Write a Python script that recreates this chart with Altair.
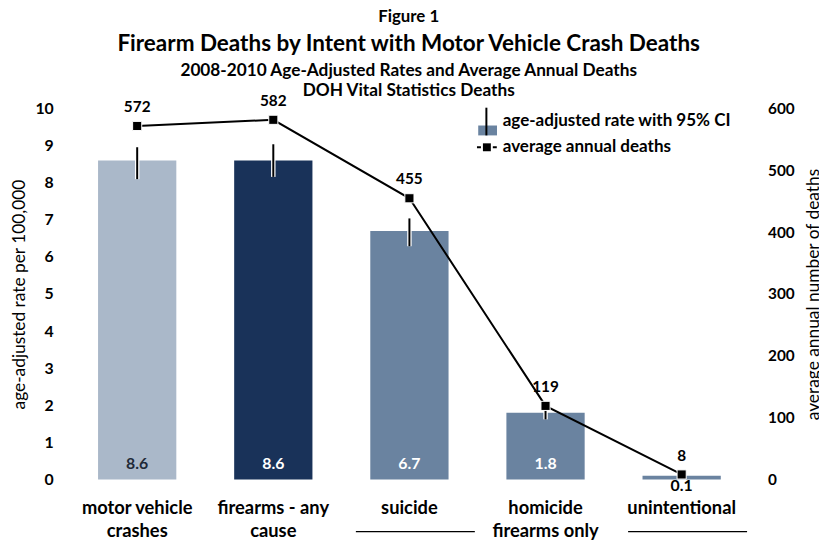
import altair as alt
import pandas as pd

# ---- data ----
categories = ["motor vehicle\ncrashes", "firearms - any\ncause", "suicide",
              "homicide\nfirearms only", "unintentional"]
rates = [8.6, 8.6, 6.7, 1.8, 0.1]
ci_low = [8.10, 8.16, 6.29, 1.62, 0.04]
ci_high = [8.96, 9.04, 7.04, 1.94, 0.17]
deaths = [572, 582, 455, 119, 8]
underlined = ["suicide", "unintentional"]
legend_labels = ["age-adjusted rate with 95% CI", "average annual deaths"]
rate_ticks = list(range(0, 11))
death_ticks = [0, 100, 200, 300, 400, 500, 600]
figure_label = ["Figure 1"]
title_text = ["Firearm Deaths by Intent with Motor Vehicle Crash Deaths"]
subtitle_text = ["2008-2010 Age-Adjusted Rates and Average Annual Deaths",
                 "DOH Vital Statistics Deaths"]

# ---- styles ----
bar_colors = ["#aab8c9", "#193259", "#6a83a0", "#6a83a0", "#6a83a0"]
FONT = "Lato"
W, H = 687.5, 374.5

df = pd.DataFrame({"category": categories, "rate": rates, "ci_low": ci_low,
                   "ci_high": ci_high, "deaths": deaths})

x_scale = alt.Scale(domain=categories, paddingInner=0.425, paddingOuter=0.2125)
x_axis = alt.Axis(title=None, labelAngle=0, labelExpr="split(datum.label, '\\n')",
                  labelFontSize=18.5, labelFontWeight="bold", labelLineHeight=24,
                  labelPadding=19, domain=False, ticks=False, labelColor="black")
x_enc = alt.X("category:N", sort=categories, scale=x_scale, axis=x_axis)

yl_scale = alt.Scale(domain=[0, 10], nice=False, zero=True)
yl_axis = alt.Axis(title="age-adjusted rate per 100,000", values=rate_ticks, grid=False,
                   domain=False, ticks=False, labelFontSize=16, labelFontWeight="bold",
                   labelPadding=16, labelColor="black", titleFontSize=17.5,
                   titleFontWeight="normal", titleColor="black", titlePadding=7)

yr_scale = alt.Scale(domain=[0, 600], nice=False, zero=True)
yr_axis = alt.Axis(orient="right", title="average annual number of deaths",
                   values=death_ticks, grid=False, domain=False, ticks=False,
                   labelFontSize=15.5, labelFontWeight="bold", labelPadding=18,
                   labelColor="black", titleFontSize=17.5, titleFontWeight="normal",
                   titleColor="black", titleAngle=270, titlePadding=29)

base = alt.Chart(df)

bars = base.mark_bar().encode(
    x=x_enc,
    y=alt.Y("rate:Q", scale=yl_scale, axis=yl_axis),
    color=alt.Color("category:N", scale=alt.Scale(domain=categories, range=bar_colors),
                    legend=None),
)
err_white = base.mark_rule(color="white", strokeWidth=4.5).encode(
    x=x_enc, y=alt.Y("ci_low:Q", scale=yl_scale, axis=yl_axis), y2="ci_high:Q")
err_black = base.mark_rule(color="black", strokeWidth=2).encode(
    x=x_enc, y=alt.Y("ci_low:Q", scale=yl_scale, axis=yl_axis), y2="ci_high:Q")

in_labels = base.transform_filter("datum.rate >= 1").transform_calculate(base="0").mark_text(
    fontSize=16, fontWeight="bold", dy=-15.5).encode(
    x=x_enc, y=alt.Y("base:Q", scale=yl_scale, axis=yl_axis),
    text=alt.Text("rate:Q", format=".1f"),
    color=alt.condition(alt.datum.category == categories[0], alt.value("#1f2a38"),
                        alt.value("white")))
out_labels = base.transform_filter("datum.rate < 1").transform_calculate(base="0").mark_text(
    fontSize=16, fontWeight="bold", dy=7, color="black").encode(
    x=x_enc, y=alt.Y("base:Q", scale=yl_scale, axis=yl_axis),
    text=alt.Text("rate:Q", format=".1f"))

left = alt.layer(bars, err_white, err_black, in_labels, out_labels)

line = base.mark_line(color="black", strokeWidth=2).encode(
    x=x_enc, y=alt.Y("deaths:Q", scale=yr_scale, axis=yr_axis))
pts = base.mark_point(shape="square", filled=True, size=85, color="black", opacity=1,
                      stroke="white", strokeWidth=1).encode(
    x=x_enc, y=alt.Y("deaths:Q", scale=yr_scale, axis=yr_axis))
pt_labels = base.mark_text(fontSize=15.5, fontWeight="bold", dy=-19, color="black").encode(
    x=x_enc, y=alt.Y("deaths:Q", scale=yr_scale, axis=yr_axis), text="deaths:Q")

right = alt.layer(line, pts, pt_labels)

# ---- decorations ----
under = base.transform_filter(
    alt.FieldOneOfPredicate(field="category", oneOf=underlined)).mark_bar(
    color="black", width={"band": 1.52}, xOffset=6).encode(
    x=x_enc, y=alt.value(426.5), y2=alt.value(428))

leg1 = pd.DataFrame({"label": [legend_labels[0]]})
leg2 = pd.DataFrame({"label": [legend_labels[1]]})
leg_rect = alt.Chart(leg1).mark_rect(color="#6a83a0").encode(
    x=alt.value(413.25), x2=alt.value(432.25), y=alt.value(17), y2=alt.value(27))
leg_bar_line = alt.Chart(leg1).mark_rule(color="black", strokeWidth=2).encode(
    x=alt.value(421.5), y=alt.value(-1), y2=alt.value(27))
leg_text1 = alt.Chart(leg1).mark_text(align="left", baseline="middle", fontSize=17.2,
                                      fontWeight="bold", color="black").encode(
    x=alt.value(438), y=alt.value(13), text="label:N")
leg_line = alt.Chart(leg2).mark_rule(color="black", strokeWidth=2, strokeDash=[4, 4]).encode(
    x=alt.value(412), x2=alt.value(432), y=alt.value(39))
leg_pt = alt.Chart(leg2).mark_point(shape="square", filled=True, size=64, color="black",
                                    opacity=1).encode(x=alt.value(422), y=alt.value(39))
leg_text2 = alt.Chart(leg2).mark_text(align="left", baseline="middle", fontSize=17.2,
                                      fontWeight="bold", color="black").encode(
    x=alt.value(438), y=alt.value(39), text="label:N")

# ---- title block (text marks above the plot) ----
def title_line(txt, size, yv):
    return alt.Chart(pd.DataFrame({"label": txt})).mark_text(
        fontSize=size, fontWeight="bold", color="black", baseline="middle").encode(
        x=alt.value(343), y=alt.value(yv), text="label:N")

fig = title_line(figure_label, 17, -93)
main_t = title_line(title_text, 22.7, -65.5)
sub1 = title_line(subtitle_text[:1], 17.4, -38.5)
sub2 = title_line(subtitle_text[1:], 17.4, -18)

chart = alt.layer(
    left, right, under, leg_rect, leg_bar_line, leg_text1, leg_line, leg_pt, leg_text2,
    fig, main_t, sub1, sub2
).resolve_scale(y="independent").properties(
    width=W, height=H,
    autosize=alt.AutoSizeParams(type="none"),
    padding={"left": 61.75, "top": 99, "right": 70, "bottom": 58},
).configure(font=FONT).configure_view(stroke=None)

chart.save("out.html", embed_options={"renderer": "svg", "actions": False})
